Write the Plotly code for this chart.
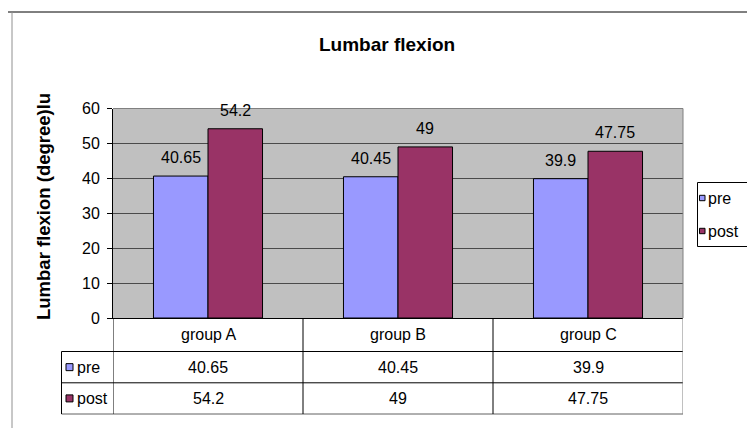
import plotly.graph_objects as go

# ---- data ----
categories = ["group A", "group B", "group C"]
series_names = ["pre", "post"]
pre_values = [40.65, 40.45, 39.9]
post_values = [54.2, 49, 47.75]
value_labels_pre = ["40.65", "40.45", "39.9"]
value_labels_post = ["54.2", "49", "47.75"]
y_ticks = [0, 10, 20, 30, 40, 50, 60]

title_text = "Lumbar flexion"
y_title_text = "Lumbar flexion (degree)lu"

colors = ["#9999FF", "#993366"]
FONT = "Liberation Sans, Arial, sans-serif"
FS = 16
W, H = 747, 428


def px(x):
    return x / W


def py(y):
    return 1 - y / H


PLOT_L, PLOT_R, PLOT_T, PLOT_B = 113, 683, 108.5, 318
ROW1, ROW2, ROW3 = 351.5, 382.8, 414
TABLE_L = 61.5

fig = go.Figure()
series = [pre_values, post_values]
for name, vals, col in zip(series_names, series, colors):
    fig.add_trace(go.Bar(
        x=categories, y=vals, name=name,
        marker=dict(color=col, line=dict(color="black", width=1)),
        showlegend=False,
    ))

annotations = []
shapes = []

# data labels above bars
bar_w = 54.5
label_sets = [value_labels_pre, value_labels_post]
for si, (vals, labs) in enumerate(zip(series, label_sets)):
    shift = (-0.5 + si) * bar_w
    for c, v, lab in zip(categories, vals, labs):
        annotations.append(dict(
            x=c, y=v, xref="x", yref="y", text=lab, showarrow=False,
            xshift=shift, yshift=18.5, yanchor="middle", xanchor="center",
            font=dict(family=FONT, size=FS, color="black")))

# title
annotations.append(dict(
    x=px(387), y=py(44.5), xref="paper", yref="paper", text="<b>" + title_text + "</b>",
    showarrow=False, xanchor="center", yanchor="middle",
    font=dict(family=FONT, size=19, color="black")))

# y axis title
annotations.append(dict(
    x=px(43), y=py(207), xref="paper", yref="paper", text="<b>" + y_title_text + "</b>",
    showarrow=False, xanchor="center", yanchor="middle", textangle=-90,
    font=dict(family=FONT, size=18.5, color="black")))

# ---- data table ----
row_cat_y = (PLOT_B + ROW1) / 2
row_pre_y = (ROW1 + ROW2) / 2
row_post_y = (ROW2 + ROW3) / 2

for c in categories:
    annotations.append(dict(x=c, y=py(row_cat_y), xref="x", yref="paper", text=c,
                            showarrow=False, yanchor="middle",
                            font=dict(family=FONT, size=FS, color="black")))
for labs, ry in zip(label_sets, [row_pre_y, row_post_y]):
    for c, lab in zip(categories, labs):
        annotations.append(dict(x=c, y=py(ry), xref="x", yref="paper", text=lab,
                                showarrow=False, yanchor="middle",
                                font=dict(family=FONT, size=FS, color="black")))

# row headers with keys
for name, col, ry in zip(series_names, colors, [row_pre_y, row_post_y]):
    shapes.append(dict(type="rect", xref="paper", yref="paper",
                       x0=px(66), x1=px(73), y0=py(ry - 3.5), y1=py(ry + 3.5),
                       fillcolor=col, line=dict(color="black", width=1)))
    annotations.append(dict(x=px(75), y=py(ry), xref="paper", yref="paper", text=name,
                            showarrow=False, xanchor="left", yanchor="middle",
                            font=dict(family=FONT, size=FS, color="black")))

# table lines
def hline(y, x0, x1, color="black"):
    shapes.append(dict(type="line", xref="paper", yref="paper",
                       x0=px(x0), x1=px(x1), y0=py(y), y1=py(y),
                       line=dict(color=color, width=1)))

def vline_cat(xc, y0, y1, color="black"):
    shapes.append(dict(type="line", xref="x", yref="paper",
                       x0=xc, x1=xc, y0=py(y0), y1=py(y1),
                       line=dict(color=color, width=1)))

hline(ROW1, TABLE_L, PLOT_R)
hline(ROW2, TABLE_L, PLOT_R)
hline(ROW3, TABLE_L, PLOT_R, "#606060")
shapes.append(dict(type="line", xref="paper", yref="paper",
                   x0=px(TABLE_L), x1=px(TABLE_L), y0=py(ROW1), y1=py(ROW3),
                   line=dict(color="black", width=1)))
for b in [-0.5, 0.5, 1.5]:
    vline_cat(b, PLOT_B, ROW3)
vline_cat(2.5, PLOT_B, ROW3, "#808080")

# plot area border (top/right)
hline(PLOT_T, PLOT_L, PLOT_R, "#808080")
shapes.append(dict(type="line", xref="paper", yref="paper",
                   x0=px(PLOT_R), x1=px(PLOT_R), y0=py(PLOT_T), y1=py(PLOT_B),
                   line=dict(color="#808080", width=1)))

# legend (right)
shapes.append(dict(type="rect", xref="paper", yref="paper",
                   x0=px(697.5), x1=px(760), y0=py(246.5), y1=py(182.5),
                   line=dict(color="black", width=1), fillcolor="white"))
for name, col, ly in zip(series_names, colors, [198, 231]):
    shapes.append(dict(type="rect", xref="paper", yref="paper",
                       x0=px(699.5), x1=px(705), y0=py(ly + 2.7), y1=py(ly - 2.7),
                       fillcolor=col, line=dict(color="black", width=1)))
    annotations.append(dict(x=px(705.5), y=py(ly), xref="paper", yref="paper", text=name,
                            showarrow=False, xanchor="left", yanchor="middle",
                            font=dict(family=FONT, size=FS, color="black")))

# outer chart frame
shapes.append(dict(type="line", xref="paper", yref="paper",
                   x0=px(8), x1=px(760), y0=py(12), y1=py(12),
                   line=dict(color="black", width=1)))
shapes.append(dict(type="line", xref="paper", yref="paper",
                   x0=px(12), x1=px(12), y0=py(12), y1=py(440),
                   line=dict(color="#909090", width=1)))

fig.update_layout(
    width=W, height=H,
    margin=dict(l=0, r=0, t=0, b=0, pad=0, autoexpand=False),
    paper_bgcolor="white",
    plot_bgcolor="#C0C0C0",
    barmode="group",
    bargap=0.426,
    bargroupgap=0,
    showlegend=False,
    annotations=annotations,
    shapes=shapes,
    xaxis=dict(
        domain=[px(PLOT_L), px(PLOT_R)],
        showticklabels=False, ticks="", showgrid=False, zeroline=False,
        showline=True, linecolor="black", linewidth=1,
        range=[-0.5, 2.5], fixedrange=True, automargin=False,
    ),
    yaxis=dict(
        domain=[py(PLOT_B), py(PLOT_T)],
        range=[0, 60], tickvals=y_ticks, ticktext=[str(t) for t in y_ticks],
        showgrid=True, gridcolor="#4a4a4a", gridwidth=1, zeroline=False,
        showline=True, linecolor="black", linewidth=1,
        ticks="outside", ticklen=5, tickcolor="black", tickwidth=1,
        ticklabelstandoff=4, automargin=False, fixedrange=True,
        tickfont=dict(family=FONT, size=FS, color="black"),
    ),
    font=dict(family=FONT, size=FS, color="black"),
)

fig.write_html(
    "out.html",
    config={"displayModeBar": False, "staticPlot": True},
    post_script="document.body.style.margin='0';document.body.style.overflow='hidden';",
)
